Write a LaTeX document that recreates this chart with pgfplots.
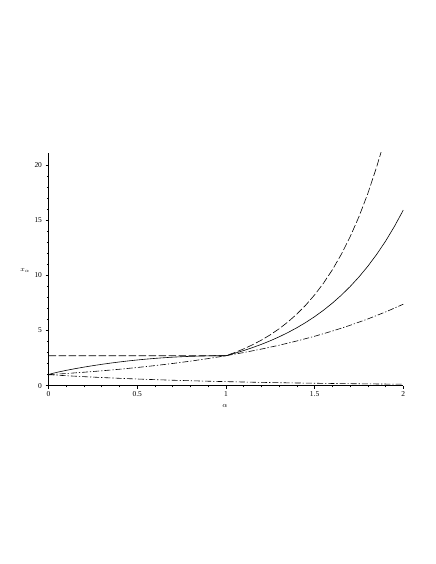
\documentclass[border=0pt]{standalone}
\usepackage{fontspec}
\setmainfont{Liberation Serif}
\usepackage{pgfplots}
\pgfplotsset{compat=1.18}
\begin{document}
\begin{tikzpicture}[x=1bp,y=1bp]
\path[use as bounding box] (0,0) rectangle (436,564);
\begin{axis}[
  at={(48.5bp,178.3bp)}, anchor=south west,
  scale only axis, width=354.8bp, height=232.7bp,
  xmin=0, xmax=2, ymin=0, ymax=21.1,
  axis lines=left, axis line style={-, line width=0.6pt},
  xtick={0,0.5,1,1.5,2}, ytick={0,5,10,15,20},
  minor x tick num=4, minor y tick num=4,
  tick align=outside, major tick length=3bp, minor tick length=1.7bp,
  tick style={line width=0.5pt, black},
  /pgf/number format/assume math mode=true,
  tick label style={font=\fontsize{7.5}{9}\selectfont},
  xticklabel style={yshift=1bp},
  xlabel={$\alpha$}, ylabel={$x_{\alpha}$},
  xlabel style={at={(axis description cs:0.4975,-0.088)}, anchor=center, font=\fontsize{7.5}{9}\selectfont},
  ylabel style={at={(axis description cs:-0.066,0.497)}, anchor=center, rotate=-90, font=\fontsize{7.5}{9}\selectfont},
  clip=true,
  every axis plot/.append style={line width=0.6pt, black},
]
% dashed: constant e, then (e alpha)^alpha
\addplot[dash pattern=on 7.5bp off 2.5bp] coordinates {
(0,2.7183) (1,2.7183) (1.05,3.0080) (1.10,3.3361) (1.15,3.7089) (1.20,4.1321)
(1.25,4.6132) (1.30,5.1607) (1.35,5.7842) (1.40,6.4952) (1.45,7.3065) (1.50,8.2335)
(1.55,9.2933) (1.60,10.507) (1.65,11.897) (1.70,13.493) (1.75,15.324) (1.80,17.427)
(1.85,19.848) (1.875,21.192) (1.90,22.636)};
% solid
\addplot[solid] coordinates {
(0,1) (0.005,1.032) (0.01,1.0577) (0.02,1.1032) (0.05,1.2211) (0.10,1.3913) (0.15,1.5443)
(0.20,1.6852) (0.25,1.8159) (0.30,1.9371) (0.35,2.0492) (0.40,2.1522) (0.45,2.2463)
(0.50,2.3316) (0.55,2.4080) (0.60,2.4756) (0.65,2.5345) (0.70,2.5849) (0.75,2.6268)
(0.80,2.6605) (0.85,2.6862) (0.90,2.7042) (0.95,2.7148) (1.00,2.7183)
(1.05,2.9414) (1.10,3.1861) (1.15,3.4546) (1.20,3.7494) (1.25,4.0735) (1.30,4.4300)
(1.35,4.8225) (1.40,5.2551) (1.45,5.7322) (1.50,6.2589) (1.55,6.8408) (1.60,7.4843)
(1.65,8.1965) (1.70,8.9854) (1.75,9.8603) (1.80,10.831) (1.85,11.909) (1.90,13.108)
(1.95,14.442) (2.00,15.927)};
% dash-dot upper
\addplot[dash pattern=on 6bp off 2bp on 1.2bp off 2bp] coordinates {
(0,1) (0.1,1.1052) (0.2,1.2214) (0.3,1.3499) (0.4,1.4918) (0.5,1.6487) (0.6,1.8221)
(0.7,2.0138) (0.8,2.2255) (0.9,2.4596) (1.0,2.7183) (1.1,3.0042) (1.2,3.3201)
(1.3,3.6693) (1.4,4.0552) (1.5,4.4817) (1.6,4.9530) (1.7,5.4739) (1.8,6.0496)
(1.9,6.6859) (2.0,7.3891)};
% dash-dot lower
\addplot[dash pattern=on 6bp off 2bp on 1.2bp off 2bp] coordinates {
(0,1) (0.1,0.9048) (0.2,0.8187) (0.3,0.7408) (0.4,0.6703) (0.5,0.6065) (0.6,0.5488)
(0.7,0.4966) (0.8,0.4493) (0.9,0.4066) (1.0,0.3679) (1.1,0.3329) (1.2,0.3012)
(1.3,0.2725) (1.4,0.2466) (1.5,0.2231) (1.6,0.2019) (1.7,0.1827) (1.8,0.1653)
(1.9,0.1496) (2.0,0.1353)};
\end{axis}
\end{tikzpicture}
\end{document}
